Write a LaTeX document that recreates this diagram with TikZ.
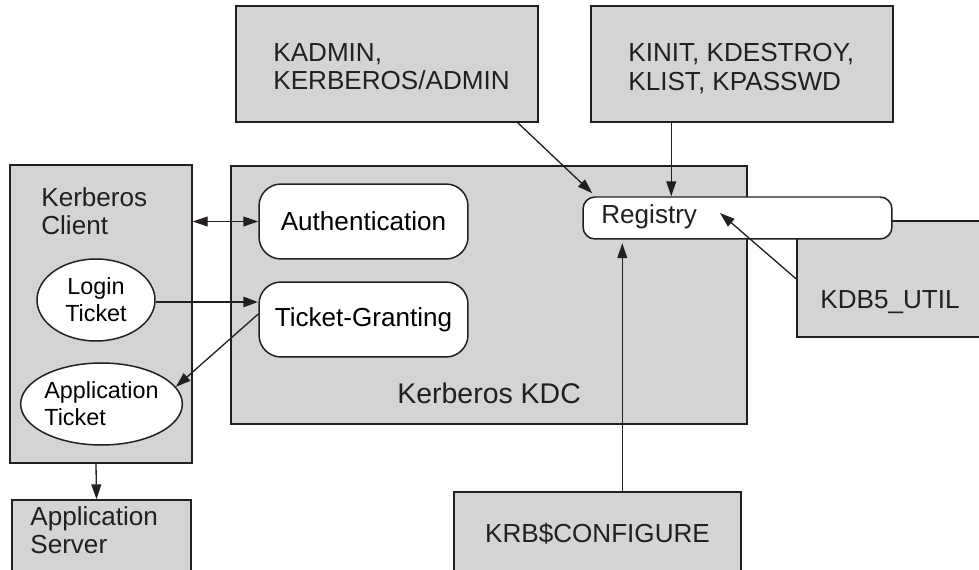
\documentclass[tikz,border=0pt]{standalone}
\usepackage{fontspec}
\setmainfont{Liberation Sans}
\usetikzlibrary{arrows.meta,shapes.geometric}
\definecolor{boxgray}{RGB}{211,212,214}
\definecolor{ink}{RGB}{35,31,32}
\newcommand\fbig{\fontsize{14.85pt}{16.2pt}\selectfont}
\newcommand\fkdc{\fontsize{16.2pt}{18pt}\selectfont}
\newcommand\fsml{\fontsize{13.3pt}{15.3pt}\selectfont}
\begin{document}
\begin{tikzpicture}[x=0.02cm,y=-0.02cm,
  >={Triangle[length=8.5pt,width=5.6pt]},
  graybox/.style={draw=ink,line width=0.85pt,fill=boxgray,inner sep=0pt},
  whitebox/.style={draw=ink,line width=0.85pt,fill=white,inner sep=0pt,rounded corners=0.44cm,font=\fbig},
  oval/.style={ellipse,draw=ink,line width=0.85pt,fill=white,inner sep=0pt,font=\fsml,minimum height=1.64cm},
  lbl/.style={anchor=north west,inner sep=0pt,font=\fbig,align=left,text=ink},
  conn/.style={draw=ink,line width=0.75pt,->}
]
\clip (0,0) rectangle (979,570);
\fill[white] (0,0) rectangle (979,570);
% gray containers
\node[graybox,minimum width=10.32cm,minimum height=5.16cm] (kdc) at (489,295) {};
\node[graybox,minimum width=3.76cm,minimum height=2.32cm] (kdb) at (891,279) {};
\node[graybox,minimum width=3.64cm,minimum height=5.96cm] (client) at (101,314) {};
\node[graybox,minimum width=3.58cm,minimum height=1.5cm] (appsrv) at (101.5,537.5) {};
\node[graybox,minimum width=6.04cm,minimum height=2.32cm] (kadmin) at (387,64) {};
\node[graybox,minimum width=6.04cm,minimum height=2.32cm] (kinit) at (742,64) {};
\node[graybox,minimum width=5.74cm,minimum height=1.66cm,font=\fbig,text=ink] (krb) at (597.5,533.5) {KRB\$CONFIGURE};
% white nodes
\node[whitebox,rounded corners=0.24cm,minimum width=6.18cm,minimum height=0.84cm] (reg) at (737.5,218) {};
\node[whitebox,minimum width=4.18cm,minimum height=1.5cm] (auth) at (363.5,221.5) {Authentication};
\node[whitebox,minimum width=4.18cm,minimum height=1.5cm] (tg) at (363.5,319.5) {Ticket-Granting};
\node[oval,minimum width=2.36cm,align=center] (login) at (96,300) {Login\\Ticket};
\node[oval,minimum width=3.14cm,align=left] (apptk) at (101.5,404) {Application\\Ticket};
% labels
\node[lbl] (clientlbl) at (41,187) {Kerberos\\Client};
\node[lbl] (kadminlbl) at (273,43) {KADMIN,\\KERBEROS/ADMIN};
\node[lbl] (kinitlbl) at (628,43) {KINIT, KDESTROY,\\KLIST, KPASSWD};
\node[lbl] (kdblbl) at (820,290) {KDB5\_UTIL};
\node[lbl] (appsrvlbl) at (30,506) {Application\\Server};
\node[lbl,font=\fkdc] (kdclbl) at (397,383) {Kerberos KDC};
\node[lbl,anchor=base west] (reglbl) at (601,224) {Registry};
% connectors
\coordinate (kinitout) at ([xshift=1.62cm]kinit.south west);
\coordinate (krbin) at ([xshift=0.8cm]reg.south west);
\coordinate (regpt) at (720,213);
\draw[conn,<->] (client.east |- auth.west) -- (auth.west);
\draw[conn,line width=1.7pt] ([yshift=-0.04cm]login.east) -- ([yshift=-0.04cm]login.east -| tg.west);
\draw[conn] ([yshift=0.11cm]tg.west) -- (apptk.13);
\draw[conn] ([xshift=-0.1cm]client.south) -- ([xshift=-0.1cm]appsrv.north);
\draw[conn] ([xshift=-0.42cm]kadmin.south east) -- ([xshift=0.2cm,yshift=0.06cm]reg.north west);
\draw[conn] (kinitout) -- (kinitout |- reg.north);
\draw[conn,shorten >=2pt] (krbin |- krb.north) -- (krbin);
\draw[conn] (kdb.west) -- (regpt);
\end{tikzpicture}
\end{document}
